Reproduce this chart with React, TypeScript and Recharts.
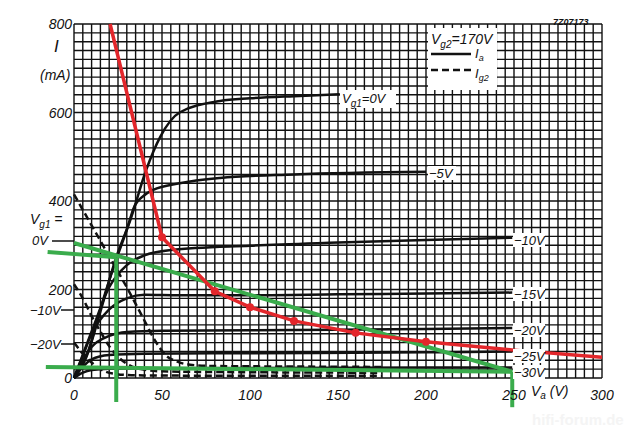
import { CartesianGrid, Line, LineChart, ReferenceLine, XAxis, YAxis } from "recharts";

type Pt = [number, number];

// anode current Ia (mA) vs anode voltage Va (V), one curve per Vg1
const ia0V: Pt[] = [[0, 0], [7, 47], [15, 150], [24, 273], [32, 357], [41, 470], [49, 545], [60, 600], [83, 626], [100, 632], [125, 637], [151, 641]];
const ia5V: Pt[] = [[0, 0], [8, 60], [16, 170], [24, 268], [30, 335], [34, 385], [40, 413], [45, 425], [60, 440], [83, 452], [125, 460], [200, 466]];
const ia10V: Pt[] = [[0, 0], [10, 105], [20, 205], [30, 255], [40, 277], [55, 289], [100, 299], [150, 306], [200, 312], [249, 317]];
const ia15V: Pt[] = [[0, 0], [5, 50], [10, 100], [20, 155], [30, 180], [40, 188], [60, 187], [100, 187], [150, 189], [200, 191], [249, 193]];
const ia20V: Pt[] = [[0, 0], [5, 40], [10, 70], [20, 95], [30, 104], [50, 107], [100, 108], [150, 109], [200, 111], [249, 113]];
const ia25V: Pt[] = [[0, 0], [5, 25], [10, 42], [20, 52], [40, 55], [100, 56], [200, 58], [249, 60]];
const ia30V: Pt[] = [[0, 0], [5, 12], [10, 18], [20, 21], [50, 22], [150, 23], [249, 24]];

// screen grid current Ig2 (mA)
const ig2_0V: Pt[] = [[0, 415], [10, 345], [20, 275], [30, 205], [40, 130], [46, 85], [52, 52], [58, 38], [66, 30], [80, 27], [120, 26], [175, 25]];
const ig2_10V: Pt[] = [[0, 212], [5, 180], [10, 140], [15, 105], [20, 72], [25, 48], [30, 32], [38, 20], [50, 15], [100, 13], [175, 12]];
const ig2_20V: Pt[] = [[0, 80], [5, 55], [10, 35], [15, 20], [22, 10], [35, 6], [100, 5], [175, 5]];

// red hand-drawn dissipation curve, and the points marked on it
const redCurve: Pt[] = [[20.5, 800], [50, 318], [80, 196], [100, 160], [125, 129], [160, 102], [200, 82], [250, 63], [300, 47]];
const redMarked = [50, 80, 100, 125, 160, 200];

// green load lines (may run past the axes)
const greenLines: [Pt, Pt][] = [
  [[-15, 285], [24, 273]],
  [[24, 273], [24, -54]],
  [[0, 305], [249, 14]],
  [[-16, 25], [249, 14]],
  [[249, 14], [249, -66]],
];

const xLabels = [0, 50, 100, 150, 200, 250, 300];
const yLabels = [0, 200, 400, 600, 800];

const RED = "#e3262b";
const GREEN = "#3aac4c";
const FONT = "'Liberation Sans', Arial, sans-serif";

const W = 640;
const H = 431;
const PL = 74, PR = 602, PT = 24, PB = 378;

const xGrid = Array.from({ length: 61 }, (_, k) => k * 5);
const yGrid = Array.from({ length: 41 }, (_, k) => k * 20);

const toRows = (pts: Pt[]) => pts.map(([v, i]) => ({ v, i }));

function XTick({ x = 0, y = 0, payload }: any) {
  const v = payload?.value;
  if (!xLabels.includes(v)) return <g />;
  return (
    <text x={x} y={y + 14} textAnchor="middle" fontSize={14} fontStyle="italic" fontFamily={FONT} fill="#111">
      {v}
    </text>
  );
}

function YTick({ y = 0, payload }: any) {
  const v = payload?.value;
  if (!yLabels.includes(v)) return <g />;
  return (
    <text x={72} y={y + 5} textAnchor="end" fontSize={14} fontStyle="italic" fontFamily={FONT} fill="#111">
      {v}
    </text>
  );
}

function RedDot(props: any) {
  const { cx, cy, payload, index } = props;
  if (!redMarked.includes(payload?.v)) return <g key={`rd-${index}`} />;
  return <circle key={`rd-${index}`} cx={cx} cy={cy} r={4} fill={RED} />;
}

const solidCurves = [ia0V, ia5V, ia10V, ia15V, ia20V, ia25V, ia30V];
const dashedCurves = [ig2_0V, ig2_10V, ig2_20V];

const curveLabels: { text: string; x: number; y: number; w: number }[] = [
  { text: "−5V", x: 429, y: 178, w: 28 },
  { text: "−10V", x: 514, y: 245, w: 32 },
  { text: "−15V", x: 514, y: 299, w: 32 },
  { text: "−20V", x: 514, y: 335, w: 32 },
  { text: "−25V", x: 514, y: 361, w: 32 },
  { text: "−30V", x: 514, y: 377, w: 32 },
];

function Overlay() {
  const t = { fontFamily: FONT, fontStyle: "italic" as const, fill: "#111" };
  return (
    <svg width={W} height={H} style={{ position: "absolute", left: 0, top: 0, pointerEvents: "none" }}>
      <text x={553} y={25} fontSize={9} fontWeight={700} {...t}>7Z07173</text>
      <text x={54} y={52} fontSize={17} {...t}>I</text>
      <text x={40} y={80} fontSize={14} {...t}>(mA)</text>

      {/* legend */}
      <rect x={428} y={28} width={69} height={62} fill="#fff" />
      <text x={431} y={44} fontSize={14} {...t}>
        V<tspan dy={4} fontSize={10}>g2</tspan><tspan dy={-4}>=170V</tspan>
      </text>
      <line x1={431} x2={471} y1={54} y2={54} stroke="#111" strokeWidth={2.5} />
      <text x={475} y={58} fontSize={13} {...t}>
        I<tspan dy={3} fontSize={9}>a</tspan>
      </text>
      <line x1={431} x2={471} y1={70} y2={70} stroke="#111" strokeWidth={2.5} strokeDasharray="7 4" />
      <text x={475} y={78} fontSize={13} {...t}>
        I<tspan dy={3} fontSize={9}>g2</tspan>
      </text>

      {/* end labels */}
      <rect x={340} y={90} width={56} height={18} fill="#fff" />
      <text x={342} y={103} fontSize={13} {...t}>
        V<tspan dy={4} fontSize={10}>g1</tspan><tspan dy={-4}>=0V</tspan>
      </text>
      {curveLabels.map((l) => (
        <g key={l.text}>
          <rect x={l.x - 1} y={l.y - 12} width={l.w} height={14} fill="#fff" />
          <text x={l.x} y={l.y} fontSize={13} {...t}>{l.text}</text>
        </g>
      ))}

      {/* Vg1 markers on the left */}
      <text x={30} y={224} fontSize={14} {...t}>
        V<tspan dy={4} fontSize={10}>g1</tspan><tspan dy={-4}> =</tspan>
      </text>
      <text x={32} y={245} fontSize={13} {...t}>0V</text>
      <line x1={52} x2={74} y1={241} y2={241} stroke="#111" strokeWidth={1.5} />
      <text x={30} y={315} fontSize={13} {...t}>−10V</text>
      <line x1={61} x2={74} y1={310} y2={310} stroke="#111" strokeWidth={1.5} />
      <text x={30} y={349} fontSize={13} {...t}>−20V</text>
      <line x1={61} x2={74} y1={344} y2={344} stroke="#111" strokeWidth={1.5} />

      <text x={531} y={396} fontSize={14} {...t}>
        V<tspan dy={3} fontSize={10}>a</tspan><tspan dy={-3}>  (V)</tspan>
      </text>
      <text x={532} y={425} fontSize={15} fontWeight={700} fontFamily={FONT} fill="#f4f4f4">hifi-forum.de</text>
    </svg>
  );
}

export default function App() {
  return (
    <div style={{ position: "absolute", left: 0, top: 0, width: W, height: H, background: "#fff" }}>
      <LineChart width={W} height={H} margin={{ top: PT, right: W - PR, left: PL - 40, bottom: H - PB - 30 }}>
        <CartesianGrid stroke="#111" strokeWidth={1.4} />
        <XAxis
          type="number"
          dataKey="v"
          domain={[0, 300]}
          ticks={xGrid}
          interval={0}
          axisLine={false}
          tickLine={false}
          height={30}
          tick={<XTick />}
        />
        <YAxis
          type="number"
          dataKey="i"
          domain={[0, 800]}
          ticks={yGrid}
          interval={0}
          axisLine={false}
          tickLine={false}
          width={40}
          tick={<YTick />}
        />
        {solidCurves.map((c, k) => (
          <Line key={`ia-${k}`} data={toRows(c)} dataKey="i" type="monotone" stroke="#111" strokeWidth={2.5} dot={false} isAnimationActive={false} />
        ))}
        {dashedCurves.map((c, k) => (
          <Line key={`ig-${k}`} data={toRows(c)} dataKey="i" type="monotone" stroke="#111" strokeWidth={2.5} strokeDasharray="7 4" dot={false} isAnimationActive={false} />
        ))}
        {greenLines.map((seg, k) => (
          <ReferenceLine
            key={`g-${k}`}
            segment={seg.map(([v, i]) => ({ x: v, y: i }))}
            stroke={GREEN}
            strokeWidth={4}
            ifOverflow="visible"
          />
        ))}
        <Line data={toRows(redCurve)} dataKey="i" type="linear" stroke={RED} strokeWidth={3.5} dot={<RedDot />} isAnimationActive={false} />
      </LineChart>
      <Overlay />
    </div>
  );
}
